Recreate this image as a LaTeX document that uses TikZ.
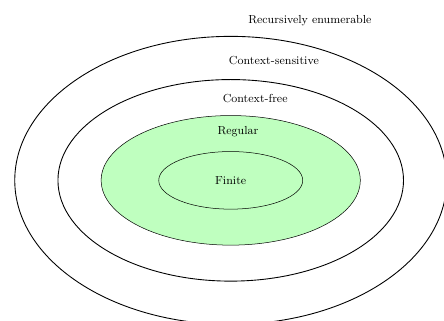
\documentclass[tikz,border=0pt]{standalone}
\begin{document}
\begin{tikzpicture}[every node/.style={font=\fontsize{9.2}{11}\selectfont}]
\tikzset{outerset/.style={draw=black,line width=0.7pt},innerset/.style={draw=black,line width=0.4pt}}
\useasboundingbox (-6.41,-3.90) rectangle (5.925,5.01);
\clip (-6.41,-3.90) rectangle (5.925,5.01);
\draw[outerset] (0,0) ellipse [x radius=6cm, y radius=4cm];
\draw[outerset] (0,0) ellipse [x radius=4.8cm, y radius=2.8cm];
\filldraw[innerset, fill=green!25] (0,0) ellipse [x radius=3.6cm, y radius=1.8cm];
\draw[innerset] (0,0) ellipse [x radius=2cm, y radius=0.8cm];
\node (re) at (2.2,4.44) {Recursively enumerable};
\node (cs) at (1.2,3.33) {Context-sensitive};
\node (cf) at (0.68,2.28) {Context-free};
\node (reg) at (0.2,1.34) {Regular};
\node (fin) at (0,0) {Finite};
\end{tikzpicture}
\end{document}
